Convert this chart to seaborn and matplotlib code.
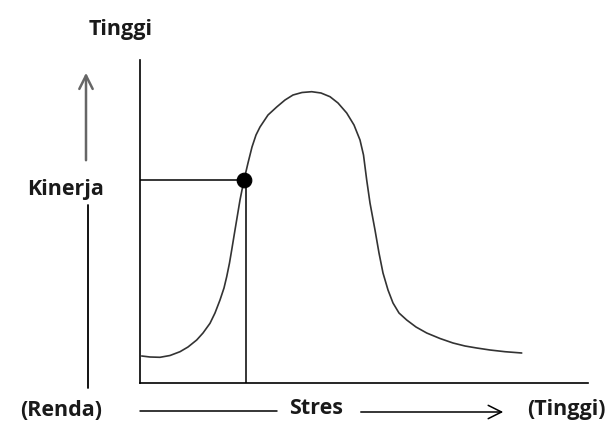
import numpy as np
import pandas as pd
import seaborn as sns
import matplotlib.pyplot as plt

# curve (stress vs performance, arbitrary units)
stres = [1.7, 10, 20, 30, 40, 48, 56.7, 63, 70, 75, 80, 84, 86.7, 89.5, 91.7, 94.5, 97, 100,
         104, 108, 112, 116, 120, 128, 136.7, 145, 153, 162, 171.7, 181, 190, 198, 206.7,
         214, 220, 223.5, 226.7, 230, 235, 239, 243, 248, 253, 259, 266.7, 276, 286.7, 300,
         313, 325, 336.7, 350, 365, 381.7]
kinerja = [27, 26, 25.7, 27.5, 31.3, 36, 43, 50, 59.7, 70, 83, 95, 106.3, 120, 133, 150, 165, 183,
           203, 220, 236, 248, 256, 268, 276, 283, 288, 290.5, 291.3, 290, 286.3, 280, 270,
           258, 243, 228, 203, 180, 153, 130, 110, 93, 80, 70, 63, 56, 50, 44.5,
           40, 37, 35, 33, 31.3, 30]
titik_x = [104]
titik_y = [203]

df = pd.DataFrame({"stres": stres, "kinerja": kinerja})

sns.set_style("white")
plt.rcParams['font.family'] = ['Open Sans', 'DejaVu Sans']

W, H = 614, 428
fig = plt.figure(figsize=(W / 100, H / 100), dpi=100)
ax = fig.add_axes([140 / W, 1 - 383 / H, 448 / W, 323 / H])

sns.lineplot(data=df, x="stres", y="kinerja", ax=ax, color="#333333", linewidth=1.2)
sns.scatterplot(x=titik_x, y=titik_y, ax=ax, color="black", s=110, zorder=5, edgecolor="black")

# guide lines to the point
ax.plot([0, titik_x[0]], [titik_y[0], titik_y[0]], color="black", lw=1.1)
ax.plot([titik_x[0] + 1.5, titik_x[0] + 1.5], [0, titik_y[0]], color="black", lw=1.1)

ax.set_xlim(0, 448)
ax.set_ylim(0, 323)
ax.set_xticks([])
ax.set_yticks([])
ax.set_xlabel("")
ax.set_ylabel("")
sns.despine(ax=ax)
for s in ["left", "bottom"]:
    ax.spines[s].set_color("black")
    ax.spines[s].set_linewidth(1.2)


def fx(px):
    return px / W


def fy(py):
    return 1 - py / H


txt = dict(fontsize=15.5, fontweight="bold", color="#1a1a1a", ha="center", va="center")
fig.text(fx(121), fy(29), "Tinggi", **txt)
fig.text(fx(66), fy(189), "Kinerja", **txt)
fig.text(fx(61), fy(410), "(Renda)", **txt)
fig.text(fx(316), fy(409), "Stres", **txt)
fig.text(fx(566), fy(410), "(Tinggi)", **txt)

# arrows and lines outside the axes
ax.annotate("", xy=(fx(86), fy(70)), xytext=(fx(86), fy(163)), xycoords="figure fraction",
            arrowprops=dict(arrowstyle="->", color="#666666", lw=1.8, mutation_scale=24))
fig.add_artist(plt.Line2D([fx(88), fx(88)], [fy(205), fy(388)], color="black", lw=1.3))
fig.add_artist(plt.Line2D([fx(140), fx(277)], [fy(411), fy(411)], color="black", lw=1.1))
ax.annotate("", xy=(fx(506), fy(412)), xytext=(fx(358), fy(412)), xycoords="figure fraction",
            arrowprops=dict(arrowstyle="->", color="black", lw=1.1, mutation_scale=24))

fig.savefig("out.png", dpi=100)
